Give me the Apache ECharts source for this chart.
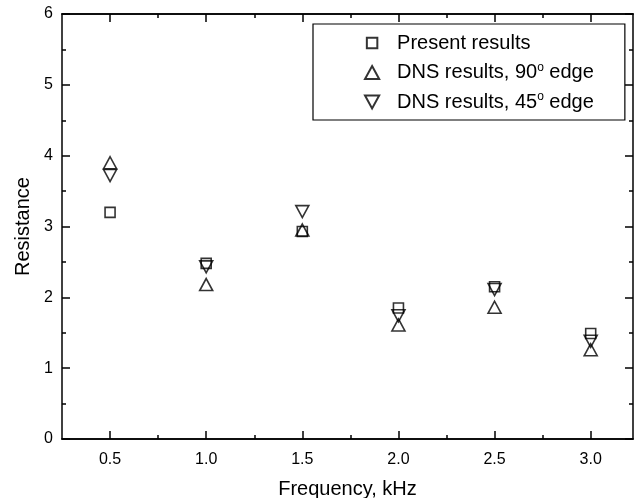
<!DOCTYPE html>
<html>
<head>
<meta charset="utf-8">
<script src="https://cdn.jsdelivr.net/npm/echarts@6/dist/echarts.min.js"></script>
<style>
  html, body { margin: 0; padding: 0; background: #fff; }
  #chart { width: 641px; height: 498px; }
</style>
</head>
<body>
<div id="chart"></div>
<script>
// Measured acoustic resistance versus frequency
const frequencies = [0.5, 1.0, 1.5, 2.0, 2.5, 3.0];
const presentResults = [3.2, 2.48, 2.93, 1.85, 2.15, 1.49];
const dns90Edge = [3.9, 2.18, 2.95, 1.61, 1.86, 1.26];
const dns45Edge = [3.72, 2.43, 3.21, 1.74, 2.11, 1.38];

const xMajorTicks = [0.5, 1.0, 1.5, 2.0, 2.5, 3.0];
const xMinorTicks = [0.75, 1.25, 1.75, 2.25, 2.75];
const seriesNames = ['Present results', 'DNS results, 90{sup|o} edge', 'DNS results, 45{sup|o} edge'];

const FONT = 'Liberation Sans, Arial, Helvetica, sans-serif';
const BLACK = '#000';

const pairs = (ys) => frequencies.map((f, i) => [f, ys[i]]);

const markerStyle = { color: 'rgba(0,0,0,0)', borderColor: BLACK, borderWidth: 1.6 };

const X_MIN = 0.25, X_MAX = 3.22;

function xAxisLayer(position, ticks, len, withLabels) {
  return {
    type: 'value', position, min: X_MIN, max: X_MAX,
    axisLine: { show: true, lineStyle: { color: BLACK, width: 1.5 } },
    axisTick: { show: true, inside: true, length: len, customValues: ticks, lineStyle: { color: BLACK, width: 1.5 } },
    axisLabel: withLabels
      ? { show: true, customValues: ticks, formatter: (v) => v.toFixed(1), color: BLACK, fontSize: 16, fontFamily: FONT, margin: 13 }
      : { show: false },
    splitLine: { show: false }
  };
}

function yAxisLayer(position, withLabels) {
  return {
    type: 'value', position, min: 0, max: 6, interval: 1,
    axisLine: { show: true, lineStyle: { color: BLACK, width: 1.5 } },
    axisTick: { show: true, inside: true, length: 8, lineStyle: { color: BLACK, width: 1.5 } },
    minorTick: { show: true, splitNumber: 2, length: 4, lineStyle: { color: BLACK, width: 1.5 } },
    axisLabel: withLabels
      ? { show: true, color: BLACK, fontSize: 16, fontFamily: FONT, margin: 9 }
      : { show: false },
    splitLine: { show: false },
    minorSplitLine: { show: false }
  };
}

const xBottom = xAxisLayer('bottom', xMajorTicks, 8, true);
xBottom.name = 'Frequency, kHz';
xBottom.nameLocation = 'middle';
xBottom.nameGap = 40;
xBottom.nameTextStyle = { color: BLACK, fontSize: 20, fontFamily: FONT };

const yLeft = yAxisLayer('left', true);
yLeft.name = 'Resistance';
yLeft.nameLocation = 'middle';
yLeft.nameGap = 24;
yLeft.nameTextStyle = { color: BLACK, fontSize: 20, fontFamily: FONT };

const UP = 'path://M6,0 L12,11 L0,11 Z';
const DOWN = 'path://M0,0 L12,0 L6,11 Z';
// legend square drawn a little smaller than the triangles
const SQUARE_ICON = 'path://M-1.2,-1.2 M0,0 L10,0 L10,10 L0,10 Z M11.2,11.2';

const chart = echarts.init(document.getElementById('chart'), null, { renderer: 'canvas' });
chart.setOption({
  animation: false,
  backgroundColor: '#fff',
  grid: { left: 62, top: 14, right: 8, bottom: 59, containLabel: false, outerBoundsMode: 'none' },
  xAxis: [
    xBottom,
    xAxisLayer('bottom', xMinorTicks, 4, false),
    xAxisLayer('top', xMajorTicks, 8, false),
    xAxisLayer('top', xMinorTicks, 4, false)
  ],
  yAxis: [yLeft, yAxisLayer('right', false)],
  legend: {
    orient: 'vertical',
    left: 313, top: 24,
    padding: [9, 31, 8, 51],
    itemGap: 8.5,
    itemWidth: 40, itemHeight: 13,
    borderColor: BLACK, borderWidth: 1.2,
    backgroundColor: '#fff',
    symbolKeepAspect: true,
    textStyle: {
      color: BLACK, fontSize: 20, fontFamily: FONT,
      rich: { sup: { fontSize: 12, fontFamily: FONT, color: BLACK, padding: [0, 0, 10, 0] } }
    },
    data: [
      { name: seriesNames[0], icon: SQUARE_ICON },
      { name: seriesNames[1], icon: UP },
      { name: seriesNames[2], icon: DOWN }
    ]
  },
  series: [
    { name: seriesNames[0], type: 'scatter', symbol: 'rect', symbolSize: 10, itemStyle: markerStyle, data: pairs(presentResults) },
    { name: seriesNames[1], type: 'scatter', symbol: UP, symbolSize: [13, 12], symbolKeepAspect: false, itemStyle: markerStyle, data: pairs(dns90Edge) },
    { name: seriesNames[2], type: 'scatter', symbol: DOWN, symbolSize: [13, 12], symbolKeepAspect: false, itemStyle: markerStyle, data: pairs(dns45Edge) }
  ]
});
</script>
</body>
</html>
